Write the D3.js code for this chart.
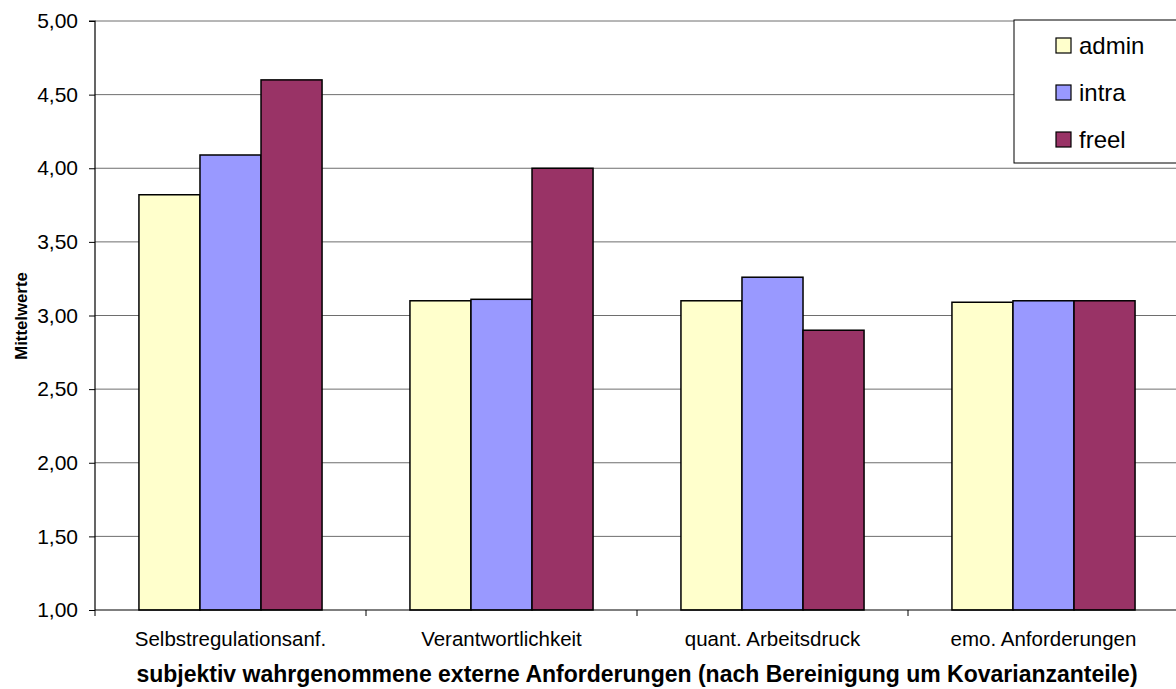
<!DOCTYPE html>
<html>
<head>
<meta charset="utf-8">
<script src="https://cdn.jsdelivr.net/npm/d3@7"></script>
<style>
  html, body { margin: 0; padding: 0; background: #fff; }
  svg { display: block; font-family: "Liberation Sans", Arial, sans-serif; }
</style>
</head>
<body>
<svg id="chart" width="1176" height="689"></svg>
<script>
// Mean scores per perceived external demand, by employment group
const categories = ["Selbstregulationsanf.", "Verantwortlichkeit", "quant. Arbeitsdruck", "emo. Anforderungen"];
const seriesNames = ["admin", "intra", "freel"];
const adminValues = [3.82, 3.10, 3.10, 3.09];
const intraValues = [4.09, 3.11, 3.26, 3.10];
const freelValues = [4.60, 4.00, 2.90, 3.10];
const seriesColors = ["#FFFFCC", "#9999FF", "#993366"];
const yTicks = [1.0, 1.5, 2.0, 2.5, 3.0, 3.5, 4.0, 4.5, 5.0];

const seriesValues = [adminValues, intraValues, freelValues];

const svg = d3.select("#chart");
const plot = { left: 95, top: 21, right: 1179, bottom: 610 };

const y = d3.scaleLinear().domain([1, 5]).range([plot.bottom, plot.top]);
const x0 = d3.scaleBand().domain(categories).range([plot.left, plot.right]).paddingInner(0).paddingOuter(0);
const x1 = d3.scaleBand().domain(seriesNames).range([0, x0.bandwidth()]).paddingInner(0).paddingOuter(0.72);

// gridlines
svg.append("g")
  .selectAll("line")
  .data(yTicks.slice(1))
  .join("line")
  .attr("x1", plot.left).attr("x2", plot.right)
  .attr("y1", d => y(d)).attr("y2", d => y(d))
  .attr("stroke", "#6e6e6e").attr("stroke-width", 1);

// bars
const groups = svg.append("g")
  .selectAll("g")
  .data(categories)
  .join("g")
  .attr("transform", d => `translate(${x0(d)},0)`);

groups.selectAll("rect")
  .data((c, ci) => seriesNames.map((s, si) => ({ s, si, v: seriesValues[si][ci] })))
  .join("rect")
  .attr("x", d => x1(d.s))
  .attr("width", x1.bandwidth())
  .attr("y", d => y(d.v))
  .attr("height", d => y(1) - y(d.v))
  .attr("fill", d => seriesColors[d.si])
  .attr("stroke", "#000").attr("stroke-width", 1.5);

// y axis
const yAxis = d3.axisLeft(y)
  .tickValues(yTicks)
  .tickSize(6)
  .tickPadding(11)
  .tickFormat(d => d3.format(".2f")(d).replace(".", ","));
const gy = svg.append("g").attr("transform", `translate(${plot.left},0)`).call(yAxis);
gy.select(".domain").attr("stroke", "#000").attr("stroke-width", 1.2).attr("d", `M-6,${plot.top}H0V${plot.bottom}`);
gy.selectAll(".tick line").attr("stroke", "#000");
gy.selectAll(".tick text").attr("font-size", 21).attr("fill", "#000")
  .attr("font-family", "Liberation Sans, Arial, sans-serif");

// x axis
const gx = svg.append("g").attr("transform", `translate(0,${plot.bottom})`);
gx.append("line").attr("x1", plot.left).attr("x2", plot.right).attr("y1", 0).attr("y2", 0)
  .attr("stroke", "#000").attr("stroke-width", 1.2);
gx.selectAll("line.tk")
  .data(categories.map(c => x0(c)).concat([plot.right]))
  .join("line").attr("class", "tk")
  .attr("x1", d => d).attr("x2", d => d).attr("y1", 0).attr("y2", 6)
  .attr("stroke", "#000");
gx.selectAll("text")
  .data(categories)
  .join("text")
  .attr("x", d => x0(d) + x0.bandwidth() / 2)
  .attr("y", 36)
  .attr("text-anchor", "middle")
  .attr("font-size", 20.5)
  .text(d => d);

// axis titles
svg.append("text")
  .attr("x", 637).attr("y", 682)
  .attr("text-anchor", "middle")
  .attr("font-size", 23).attr("font-weight", "bold")
  .text("subjektiv wahrgenommene externe Anforderungen (nach Bereinigung um Kovarianzanteile)");

svg.append("text")
  .attr("transform", `translate(27,316) rotate(-90)`)
  .attr("text-anchor", "middle")
  .attr("font-size", 16.8).attr("font-weight", "bold")
  .text("Mittelwerte");

// legend
const legend = svg.append("g");
legend.append("rect")
  .attr("x", 1014).attr("y", 20).attr("width", 170).attr("height", 143)
  .attr("fill", "#fff").attr("stroke", "#000").attr("stroke-width", 1);
const items = legend.selectAll("g.item")
  .data(seriesNames)
  .join("g").attr("class", "item")
  .attr("transform", (d, i) => `translate(1056,${38 + i * 47})`);
items.append("rect")
  .attr("width", 15).attr("height", 15)
  .attr("fill", (d, i) => seriesColors[i])
  .attr("stroke", "#000").attr("stroke-width", 1.2);
items.append("text")
  .attr("x", 23).attr("y", 16)
  .attr("font-size", 24)
  .text(d => d);
</script>
</body>
</html>
